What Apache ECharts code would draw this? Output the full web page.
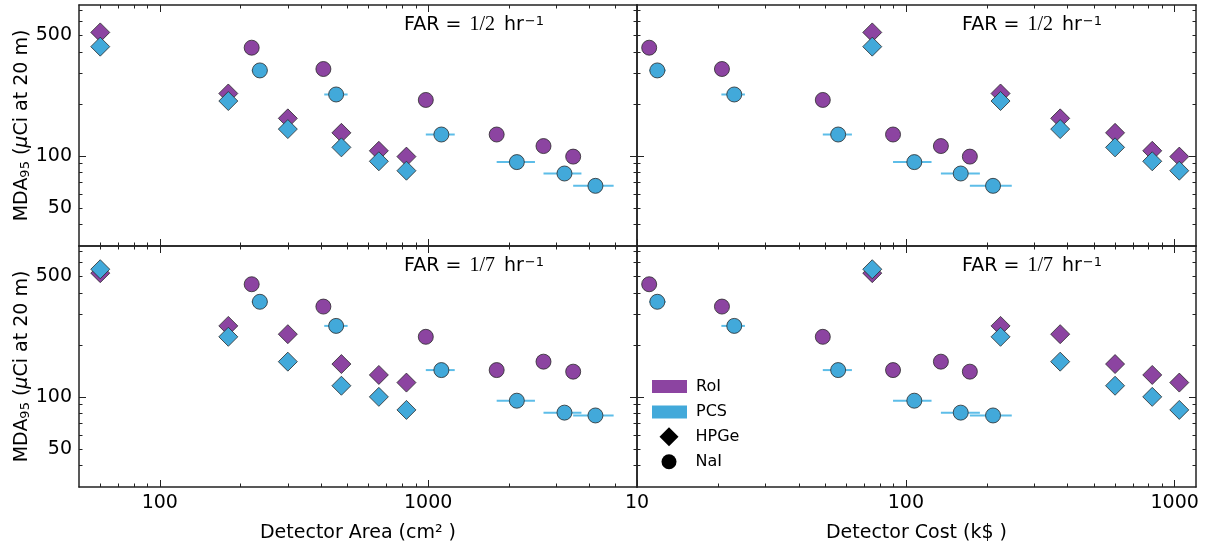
<!DOCTYPE html>
<html>
<head>
<meta charset="utf-8">
<script src="https://cdn.jsdelivr.net/npm/echarts@6/dist/echarts.min.js"></script>
<style>
html, body {margin: 0; padding: 0; background: #fff;}
#chart {width: 1206px; height: 550px;}
</style>
</head>
<body>
<div id="chart"></div>
<script>
// HPGe detectors
var hpgeArea = [60, 180, 300, 475, 655, 830];
var hpgeCost = [75, 225, 375, 600, 825, 1040];
var hpgeRoi2 = [520, 230, 165, 136, 107, 99];
var hpgePcs2 = [430, 208, 143, 112, 93, 82];
var hpgeRoi7 = [522, 258, 231, 155, 134, 121];
var hpgePcs7 = [550, 223, 160, 116, 100, 84];

// NaI detectors (PCS points carry a horizontal range)
var naiArea = [220, 407, 980, 1800, 2690, 3470];
var naiPcsArea = [236, 454, 1120, 2140, 3220, 4200];
var naiPcsAreaLo = [220, 410, 980, 1800, 2690, 3470];
var naiPcsAreaHi = [252, 501, 1256, 2500, 3725, 4910];
var naiCost = [11.1, 20.7, 49.1, 89.6, 135, 173];
var naiPcsCost = [11.9, 23.0, 56.0, 107.5, 160, 211];
var naiPcsCostLo = [11.1, 20.6, 49.1, 89.6, 135, 173];
var naiPcsCostHi = [12.8, 25.2, 63.0, 124.6, 188.5, 247.7];
var naiRoi2 = [424, 319, 211, 133, 114, 99];
var naiPcs2 = [313, 227, 133, 92, 79, 67];
var naiRoi7 = [450, 334, 223, 143, 160, 140];
var naiPcs7 = [356, 258, 143, 95, 81, 78];

// ticks and labels
var areaRange = [50, 6000];
var areaMajor = [100, 1000];
var areaMinor = [60, 70, 80, 90, 200, 300, 400, 500, 600, 700, 800, 900, 2000, 3000, 4000, 5000];
var costRange = [10, 1200];
var costMajor = [10, 100, 1000];
var costMinor = [20, 30, 40, 50, 60, 70, 80, 90, 200, 300, 400, 500, 600, 700, 800, 900];
var mdaRange = [30, 750];
var mdaMajor = [100];
var mdaMinor = [40, 50, 60, 70, 80, 90, 200, 300, 400, 500, 600, 700];
var mdaLabels = [50, 100, 500];
var farLabels = ['1/2', '1/7'];

var purple = '#8C44A1';
var blue = '#42A9DA';
var barBlue = '#5DBDE8';
var edge = '#2a2a2a';
var font = 'DejaVu Sans';

var chart = echarts.init(document.getElementById('chart'));

var grids = [
    {left: 79, top: 5, width: 558, height: 241},
    {left: 637, top: 5, width: 559, height: 241},
    {left: 79, top: 246, width: 558, height: 241},
    {left: 637, top: 246, width: 559, height: 241}
];

function fmt(v) {
    return '' + Math.round(v);
}

function logAxis(g, pos, range, ticks, len, line, labels) {
    return {
        type: 'log',
        logBase: 10,
        gridIndex: g,
        position: pos,
        min: range[0],
        max: range[1],
        axisLine: {show: line, onZero: false, lineStyle: {color: '#222', width: 1.5}},
        axisTick: {show: true, inside: true, length: len, customValues: ticks,
            lineStyle: {color: '#222', width: 1}},
        axisLabel: labels ? {show: true, customValues: labels, margin: 7, color: '#000',
            fontSize: 19, fontFamily: font, formatter: fmt} : {show: false},
        splitLine: {show: false}
    };
}

var yName = 'MDA{sub|95} ({mu|μ}Ci at 20 m)';
var nameStyle = {
    fontSize: 19, color: '#000', fontFamily: font,
    rich: {
        sub: {fontSize: 13, color: '#000', fontFamily: font, padding: [7, 0, 0, 0]},
        mu: {fontSize: 19, color: '#000', fontFamily: font, fontStyle: 'italic'}
    }
};

var xAxes = [];
var yAxes = [];
for (var g = 0; g < 4; g++) {
    var isCost = g % 2 === 1;
    var bottomRow = g >= 2;
    var xr = isCost ? costRange : areaRange;
    var xMaj = isCost ? costMajor : areaMajor;
    var xMin = isCost ? costMinor : areaMinor;

    var xb = logAxis(g, 'bottom', xr, xMaj, 7, true, bottomRow ? xMaj : null);
    if (bottomRow) {
        xb.name = isCost ? 'Detector Cost (k$ )' : 'Detector Area (cm² )';
        xb.nameLocation = 'middle';
        xb.nameGap = 37;
        xb.nameTextStyle = nameStyle;
    }
    xAxes.push(xb);
    xAxes.push(logAxis(g, 'bottom', xr, xMin, 3.5, false, null));
    xAxes.push(logAxis(g, 'top', xr, xMaj, 7, true, null));
    xAxes.push(logAxis(g, 'top', xr, xMin, 3.5, false, null));

    var yl = logAxis(g, 'left', mdaRange, mdaMajor, 7, true, isCost ? null : mdaLabels);
    if (!isCost) {
        yl.name = yName;
        yl.nameLocation = 'middle';
        yl.nameGap = 47;
        yl.nameTextStyle = nameStyle;
    }
    yAxes.push(yl);
    yAxes.push(logAxis(g, 'left', mdaRange, mdaMinor, 3.5, false, null));
    yAxes.push(logAxis(g, 'right', mdaRange, mdaMajor, 7, true, null));
    yAxes.push(logAxis(g, 'right', mdaRange, mdaMinor, 3.5, false, null));
}

function pts(xs, ys) {
    return xs.map(function (x, i) { return [x, ys[i]]; });
}

function ranges(lo, hi, ys) {
    return lo.map(function (l, i) { return [l, hi[i], ys[i]]; });
}

function renderRange(params, api) {
    var a = api.coord([api.value(0), api.value(2)]);
    var b = api.coord([api.value(1), api.value(2)]);
    return {
        type: 'line',
        shape: {x1: a[0], y1: a[1], x2: b[0], y2: b[1]},
        style: {stroke: barBlue, lineWidth: 2}
    };
}

var panels = [
    {hx: hpgeArea, nx: naiArea, px: naiPcsArea, lo: naiPcsAreaLo, hi: naiPcsAreaHi,
        hr: hpgeRoi2, hp: hpgePcs2, nr: naiRoi2, np: naiPcs2},
    {hx: hpgeCost, nx: naiCost, px: naiPcsCost, lo: naiPcsCostLo, hi: naiPcsCostHi,
        hr: hpgeRoi2, hp: hpgePcs2, nr: naiRoi2, np: naiPcs2},
    {hx: hpgeArea, nx: naiArea, px: naiPcsArea, lo: naiPcsAreaLo, hi: naiPcsAreaHi,
        hr: hpgeRoi7, hp: hpgePcs7, nr: naiRoi7, np: naiPcs7},
    {hx: hpgeCost, nx: naiCost, px: naiPcsCost, lo: naiPcsCostLo, hi: naiPcsCostHi,
        hr: hpgeRoi7, hp: hpgePcs7, nr: naiRoi7, np: naiPcs7}
];

function marker(name, g, symbol, size, color, data) {
    return {
        name: name,
        type: 'scatter',
        xAxisIndex: g * 4,
        yAxisIndex: g * 4,
        symbol: symbol,
        symbolSize: size,
        itemStyle: {color: color, borderColor: edge, borderWidth: 0.8, opacity: 1},
        data: data
    };
}

var series = [];
panels.forEach(function (p, g) {
    series.push(marker('HPGe RoI', g, 'diamond', 19, purple, pts(p.hx, p.hr)));
    series.push(marker('NaI RoI', g, 'circle', 15, purple, pts(p.nx, p.nr)));
    series.push({
        name: 'NaI PCS range',
        type: 'custom',
        xAxisIndex: g * 4,
        yAxisIndex: g * 4,
        encode: {x: [0, 1], y: 2},
        renderItem: renderRange,
        data: ranges(p.lo, p.hi, p.np)
    });
    series.push(marker('HPGe PCS', g, 'diamond', 19, blue, pts(p.hx, p.hp)));
    series.push(marker('NaI PCS', g, 'circle', 15, blue, pts(p.px, p.np)));
});

// legend-only entries
[['RoI', 'rect', purple], ['PCS', 'rect', blue], ['HPGe', 'diamond', '#000'], ['NaI', 'circle', '#000']]
    .forEach(function (d) {
        series.push({
            name: d[0], type: 'scatter', xAxisIndex: 12, yAxisIndex: 12,
            symbol: d[1], itemStyle: {color: d[2], opacity: 1}, data: []
        });
    });

var legendText = {fontSize: 16, color: '#000', fontFamily: font};

var titles = [];
for (var t = 0; t < 4; t++) {
    titles.push({
        text: 'FAR = {m|' + farLabels[t >= 2 ? 1 : 0] + '} hr{sup|−1}',
        left: t % 2 === 0 ? 404 : 962,
        top: t >= 2 ? 256 : 15,
        padding: 0,
        textStyle: {
            fontSize: 19, fontWeight: 'normal', color: '#000', fontFamily: font,
            rich: {
                m: {fontSize: 20, color: '#000', fontFamily: 'Liberation Serif', padding: [0, 3, 0, 2]},
                sup: {fontSize: 13, color: '#000', fontFamily: font, verticalAlign: 'top',
                    lineHeight: 14, padding: [0, 0, 0, 1]}
            }
        }
    });
}

var option = {
    animation: false,
    backgroundColor: '#fff',
    textStyle: {fontFamily: font},
    title: titles,
    grid: grids,
    xAxis: xAxes,
    yAxis: yAxes,
    legend: [
        {
            data: [{name: 'RoI', icon: 'rect'}, {name: 'PCS', icon: 'rect'}],
            orient: 'vertical', left: 652, top: 378.5, padding: 0,
            itemWidth: 35, itemHeight: 13, itemGap: 9.5, selectedMode: false,
            itemStyle: {opacity: 1},
            textStyle: Object.assign({padding: [0, 0, 0, 4]}, legendText)
        },
        {
            data: [{name: 'HPGe', icon: 'diamond'}],
            left: 659.5, top: 427.2, padding: 0,
            itemWidth: 19, itemHeight: 19, selectedMode: false,
            itemStyle: {opacity: 1},
            textStyle: Object.assign({padding: [0, 0, 0, 12]}, legendText)
        },
        {
            data: [{name: 'NaI', icon: 'circle'}],
            left: 661.5, top: 453.7, padding: 0,
            itemWidth: 15, itemHeight: 15, selectedMode: false,
            itemStyle: {opacity: 1},
            textStyle: Object.assign({padding: [0, 0, 0, 14]}, legendText)
        }
    ],
    series: series
};

chart.setOption(option);
</script>
</body>
</html>
